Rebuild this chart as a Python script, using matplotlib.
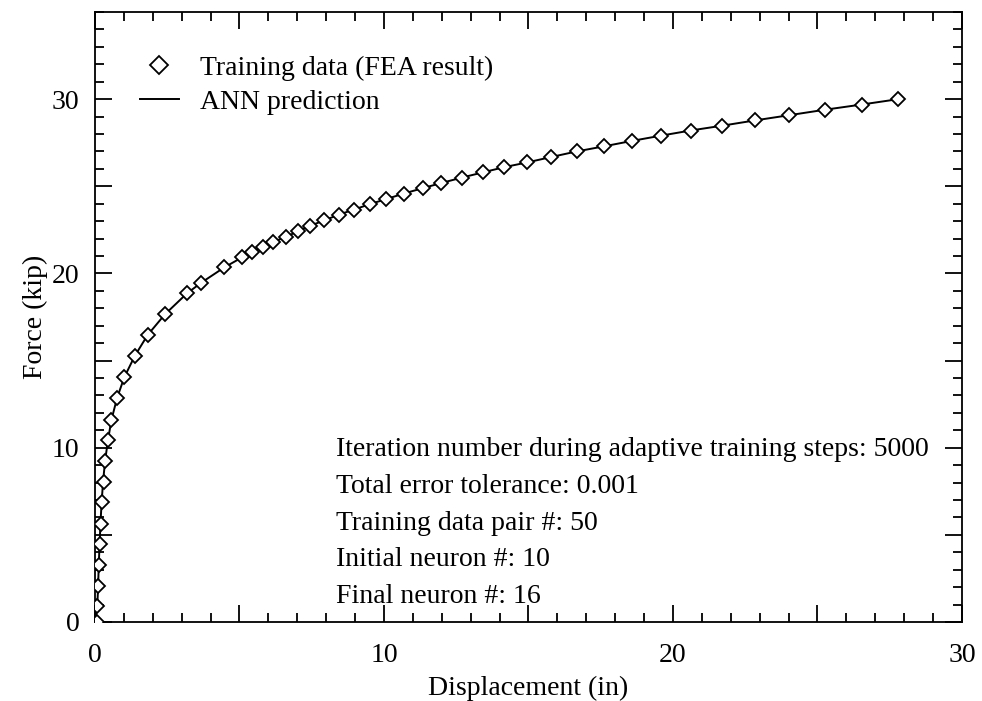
import matplotlib
matplotlib.use("Agg")
import matplotlib.pyplot as plt
from matplotlib.ticker import MultipleLocator

plt.rcParams["font.family"] = ["Liberation Serif", "DejaVu Serif"]
plt.rcParams["mathtext.fontset"] = "stix"

# Training data pairs from the finite element analysis
disp_fea = [0.06, 0.08, 0.11, 0.15, 0.16, 0.20, 0.23, 0.30, 0.35, 0.46,
            0.56, 0.77, 1.02, 1.38, 1.82, 2.42, 3.18, 3.68, 4.47, 5.10,
            5.44, 5.80, 6.15, 6.60, 7.01, 7.44, 7.93, 8.45, 8.96, 9.50,
            10.07, 10.68, 11.34, 11.99, 12.70, 13.43, 14.17, 14.96, 15.79, 16.67,
            17.61, 18.57, 19.57, 20.61, 21.68, 22.84, 24.03, 25.25, 26.53, 27.80]
force_fea = [0.00, 0.90, 2.06, 3.25, 4.45, 5.63, 6.86, 8.04, 9.24, 10.43,
             11.60, 12.88, 14.06, 15.27, 16.46, 17.65, 18.85, 19.47, 20.34, 20.93,
             21.24, 21.51, 21.81, 22.08, 22.42, 22.73, 23.04, 23.38, 23.66, 23.97,
             24.26, 24.58, 24.89, 25.19, 25.50, 25.80, 26.10, 26.37, 26.68, 27.00,
             27.29, 27.60, 27.90, 28.20, 28.47, 28.78, 29.08, 29.39, 29.69, 30.00]

# Network response evaluated along the same load path
disp_ann = [0.00, 0.08, 0.11, 0.13, 0.16, 0.19, 0.23, 0.28, 0.35, 0.45,
            0.57, 0.77, 1.02, 1.38, 1.82, 2.42, 3.18, 3.68, 4.47, 5.10,
            5.44, 5.80, 6.15, 6.60, 7.01, 7.44, 7.93, 8.45, 8.96, 9.50,
            10.07, 10.68, 11.34, 11.99, 12.70, 13.43, 14.17, 14.96, 15.79, 16.67,
            17.61, 18.57, 19.57, 20.61, 21.68, 22.84, 24.03, 25.25, 26.53, 27.80]
force_ann = force_fea

notes = [
    "Iteration number during adaptive training steps: 5000",
    "Total error tolerance: 0.001",
    "Training data pair #: 50",
    "Initial neuron #: 10",
    "Final neuron #: 16",
]

FS = 20

fig = plt.figure(figsize=(9.82, 7.01), dpi=100)
ax = fig.add_axes([0.0967, 0.1127, 0.8829, 0.8702])

ax.plot(disp_fea, force_fea, linestyle="none", marker="D", markersize=7,
        markerfacecolor="white", markeredgecolor="black", markeredgewidth=1.3,
        label="Training data (FEA result)", zorder=3)
ax.plot(disp_ann, force_ann, color="black", linewidth=1.4,
        label="ANN prediction", zorder=2)

ax.set_xlim(0, 30)
ax.set_ylim(0, 35)
ax.xaxis.set_minor_locator(MultipleLocator(1))
ax.yaxis.set_minor_locator(MultipleLocator(1))
ax.set_xticks([0, 5, 10, 15, 20, 25, 30])
ax.set_xticklabels(["0", "", "10", "", "20", "", "30"])
ax.set_yticks([0, 5, 10, 15, 20, 25, 30])
ax.set_yticklabels(["0", "", "10", "", "20", "", "30"])

ax.tick_params(which="both", direction="in", top=True, right=True,
               labelsize=FS, width=1.3)
ax.tick_params(axis="y", pad=11)
ax.tick_params(axis="x", pad=15)
ax.tick_params(which="major", length=12)
ax.tick_params(which="minor", length=6.5)
for s in ax.spines.values():
    s.set_linewidth(1.3)

ax.set_xlabel("Displacement (in)", fontsize=FS, labelpad=6)
ax.set_ylabel("Force (kip)", fontsize=FS, labelpad=3)

leg = ax.legend(loc="upper left", bbox_to_anchor=(0.052, 0.929), frameon=False,
                fontsize=FS, handlelength=1.4, handletextpad=0.75,
                labelspacing=0.3, borderpad=0, borderaxespad=0,
                numpoints=1, markerscale=1.25)

ys = [0.283, 0.222, 0.162, 0.102, 0.041]
for t, y in zip(notes, ys):
    ax.text(0.278, y, t, transform=ax.transAxes, fontsize=FS, va="center", ha="left")

fig.savefig("out.png", dpi=100)
